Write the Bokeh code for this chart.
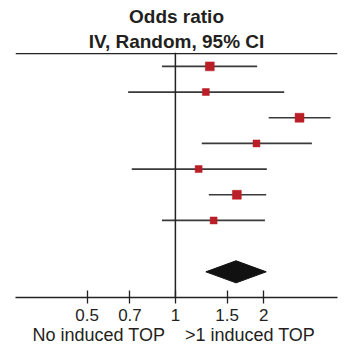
from bokeh.plotting import figure
from bokeh.models import Range1d, FixedTicker, Span, Title, ColumnDataSource
from bokeh.embed import file_html
from bokeh.resources import INLINE
import math

# ---- data ----
study_rows = [1, 2, 3, 4, 5, 6, 7]
odds_ratio = [1.31, 1.27, 2.65, 1.89, 1.20, 1.62, 1.35]
ci_lower = [0.90, 0.69, 2.08, 1.23, 0.71, 1.30, 0.90]
ci_upper = [1.90, 2.35, 3.38, 2.92, 2.05, 2.04, 2.02]
weights = [16.5, 10.0, 16.5, 10.0, 10.0, 16.5, 10.0]

pooled_row = 9
pooled_or = 1.61
pooled_lower = 1.27
pooled_upper = 2.04

tick_values = [0.5, 0.7, 1, 1.5, 2]
tick_labels = ["0.5", "0.7", "1", "1.5", "2"]

header_1 = "Odds ratio"
header_2 = "IV, Random, 95% CI"
favours_left = "No induced TOP"
favours_right = ">1 induced TOP"

FONT = "Liberation Sans"
TEXT = "#231f20"
RED = "#ba1e26"

p = figure(width=344, height=347, x_axis_type="log", y_axis_location=None,
           x_range=Range1d(0.285, 3.57), y_range=Range1d(10, 0.46),
           output_backend="svg", toolbar_location=None,
           min_border_left=15, min_border_right=7, min_border_top=52, min_border_bottom=49)
p.outline_line_color = None
p.xgrid.visible = False
p.ygrid.visible = False
p.background_fill_color = "white"
p.border_fill_color = "white"

ax = p.xaxis[0]
ax.ticker = FixedTicker(ticks=tick_values)
ax.major_label_overrides = {float(v): t for v, t in zip(tick_values, tick_labels)}
ax.minor_tick_line_color = None
ax.major_tick_in = 7
ax.major_tick_out = 6
ax.axis_line_width = 1.3
ax.axis_line_color = "#222222"
ax.major_tick_line_width = 1.3
ax.major_tick_line_color = "#222222"
ax.major_label_text_font = FONT
ax.major_label_text_font_size = "17px"
ax.major_label_text_color = TEXT
ax.major_label_standoff = 5
ax.axis_label = favours_left + "\u00a0" * 4 + favours_right + "\u00a0"
ax.axis_label_text_font = FONT
ax.axis_label_text_font_size = "18px"
ax.axis_label_text_font_style = "normal"
ax.axis_label_text_color = TEXT
ax.axis_label_standoff = 1

# line of no effect
p.add_layout(Span(location=1, dimension="height", line_color="#222222", line_width=1.5))
# top rule
p.add_layout(Span(location=0.5, dimension="width", line_color="#222222", line_width=1.3))

src = ColumnDataSource(dict(y=study_rows, est=odds_ratio, lo=ci_lower, hi=ci_upper,
                            size=[2.2 * math.sqrt(w) for w in weights]))
p.segment(x0="lo", x1="hi", y0="y", y1="y", source=src, line_color="#3a3a3a", line_width=1.7)
p.scatter(x="est", y="y", size="size", marker="square", source=src,
          fill_color=RED, line_color=RED, line_width=0.5)

half_h = 0.43
p.patch(x=[pooled_lower, pooled_or, pooled_upper, pooled_or],
        y=[pooled_row, pooled_row - half_h, pooled_row, pooled_row + half_h],
        fill_color="#111111", line_color="#111111", line_width=1)

p.add_layout(Title(text=header_2, align="center", text_font=FONT, text_font_style="bold",
                   text_font_size="19px", text_color=TEXT, standoff=2), "above")
p.add_layout(Title(text=header_1, align="center", text_font=FONT, text_font_style="bold",
                   text_font_size="19px", text_color=TEXT, standoff=2), "above")

open("out.html", "w").write(file_html(p, INLINE))
